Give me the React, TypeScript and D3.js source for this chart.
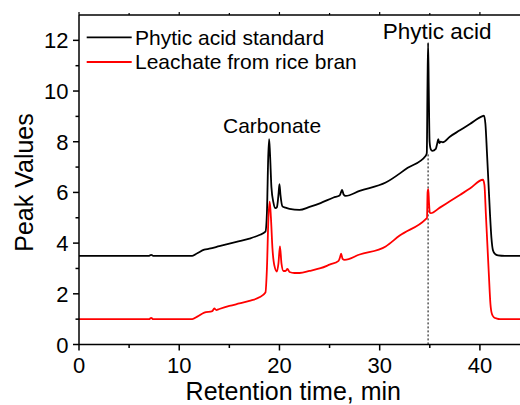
import React from "react";
import * as d3 from "d3";

const standardSeries: [number, number][] = [
  [0, 3.5], [5, 3.5], [7.0, 3.5], [7.2, 3.54], [7.4, 3.5], [11.3, 3.5], [11.8, 3.6], [12.5, 3.74],
  [13, 3.78], [14, 3.88], [15, 3.98], [16, 4.08], [17, 4.18], [18, 4.32], [18.6, 4.45],
  [18.75, 5.2], [18.88, 7.4], [18.97, 8.1], [19.06, 7.5], [19.2, 6.2], [19.4, 5.6], [19.6, 5.38],
  [19.75, 5.42], [19.9, 5.9], [20.0, 6.33], [20.1, 5.9], [20.3, 5.45], [20.6, 5.4], [21, 5.35],
  [22, 5.31], [23, 5.43], [24.1, 5.58], [25.4, 5.8], [26.0, 5.88], [26.12, 5.98], [26.25, 6.1],
  [26.4, 5.92], [26.6, 5.86], [28, 6.06], [30.6, 6.39], [32.8, 6.97], [34.6, 7.45], [34.7, 7.55],
  [34.77, 10.2], [34.83, 11.9], [34.9, 10.0], [34.98, 8.0], [35.1, 7.7], [35.25, 7.64],
  [35.6, 7.72], [35.75, 7.95], [35.85, 8.1], [35.95, 7.95], [36.1, 8.0], [36.3, 7.98], [37, 8.2],
  [38, 8.45], [39, 8.7], [40.2, 9.0], [40.4, 9.03], [40.55, 8.7], [40.7, 7.6], [40.85, 6.4],
  [41.0, 5.2], [41.15, 4.2], [41.3, 3.72], [41.5, 3.58], [41.8, 3.52], [42.5, 3.5], [45, 3.5],
];

const leachateSeries: [number, number][] = [
  [0, 1.0], [7.0, 1.0], [7.2, 1.05], [7.4, 1.0], [11.3, 1.0], [11.8, 1.1], [12.5, 1.26],
  [13.3, 1.32], [13.5, 1.42], [13.7, 1.36], [14, 1.4], [15, 1.52], [16, 1.62], [17, 1.72],
  [18, 1.86], [18.6, 2.05], [18.75, 3.0], [18.9, 5.0], [19.03, 5.64], [19.15, 5.0], [19.3, 3.8],
  [19.5, 3.1], [19.75, 2.88], [19.9, 3.2], [20.05, 3.87], [20.2, 3.2], [20.4, 2.9], [20.6, 2.9],
  [20.8, 2.98], [21.0, 2.86], [21.5, 2.82], [22, 2.82], [23, 2.9], [24.1, 3.01], [25, 3.15],
  [25.9, 3.3], [26.05, 3.45], [26.15, 3.58], [26.3, 3.38], [26.5, 3.34], [28, 3.55], [30.6, 3.87],
  [32, 4.3], [34.6, 4.95], [34.72, 5.0], [34.78, 6.0], [34.85, 6.13], [34.92, 5.6], [35.0, 5.2],
  [35.1, 5.18], [36, 5.4], [37, 5.65], [38, 5.9], [39, 6.15], [40.3, 6.5], [40.45, 6.3],
  [40.6, 5.1], [40.75, 3.9], [40.9, 2.7], [41.05, 1.6], [41.2, 1.2], [41.4, 1.07], [41.7, 1.02],
  [42, 1.0], [45, 1.0],
];

const xMajorTicks = [0, 10, 20, 30, 40];
const xMinorTicks = [5, 15, 25, 35];
const yMajorTicks = [0, 2, 4, 6, 8, 10, 12];
const yMinorTicks = [1, 3, 5, 7, 9, 11];
const legendLabels = ["Phytic acid standard", "Leachate from rice bran"];
const seriesColors = ["#000000", "#ff0000"];
const phyticRetention = 34.83;
const phyticBaseline = 7.5;

const FONT = "'Liberation Sans', Arial, Helvetica, sans-serif";

export default function App() {
  const W = 520;
  const H = 405;
  const left = 79;
  const right = 520;
  const top = 15;
  const bottom = 344.5;

  const x = d3.scaleLinear().domain([0, 44]).range([left, right]);
  const y = d3.scaleLinear().domain([0, 13]).range([bottom, top]);

  const lineGen = d3
    .line<[number, number]>()
    .x((d) => x(d[0]))
    .y((d) => y(d[1]))
    .curve(d3.curveMonotoneX);

  const series = [standardSeries, leachateSeries];

  return (
    <svg
      width={W}
      height={H}
      style={{ position: "absolute", left: 0, top: 0, background: "#fff" }}
      fontFamily={FONT}
    >
      <defs>
        <clipPath id="plotclip">
          <rect x={left} y={top} width={right - left} height={bottom - top} />
        </clipPath>
      </defs>

      <line
        x1={x(phyticRetention)}
        x2={x(phyticRetention)}
        y1={y(phyticBaseline)}
        y2={bottom}
        stroke="#000"
        strokeWidth={1}
        strokeDasharray="2,2"
      />

      <g clipPath="url(#plotclip)">
        {series.map((s, i) => (
          <path
            key={i}
            d={lineGen(s) || ""}
            fill="none"
            stroke={seriesColors[i]}
            strokeWidth={1.8}
            strokeLinejoin="round"
          />
        ))}
      </g>

      <line x1={left} x2={right} y1={bottom} y2={bottom} stroke="#000" strokeWidth={1.5} />
      <line x1={left} x2={right} y1={top} y2={top} stroke="#000" strokeWidth={1.5} />
      <line x1={left} x2={left} y1={top} y2={bottom} stroke="#000" strokeWidth={1.5} />

      {xMajorTicks.map((t) => (
        <g key={"xm" + t}>
          <line x1={x(t)} x2={x(t)} y1={bottom} y2={bottom + 6} stroke="#000" strokeWidth={1.5} />
          <line x1={x(t)} x2={x(t)} y1={top} y2={top - 3} stroke="#000" strokeWidth={1.2} />
          <text x={x(t)} y={373} textAnchor="middle" fontSize={22} fill="#000">
            {t}
          </text>
        </g>
      ))}
      {xMinorTicks.map((t) => (
        <g key={"xn" + t}>
          <line x1={x(t)} x2={x(t)} y1={bottom} y2={bottom + 3.5} stroke="#000" strokeWidth={1.5} />
          <line x1={x(t)} x2={x(t)} y1={top} y2={top - 2} stroke="#000" strokeWidth={1.2} />
        </g>
      ))}

      {yMajorTicks.map((t) => (
        <g key={"ym" + t}>
          <line x1={left - 6} x2={left} y1={y(t)} y2={y(t)} stroke="#000" strokeWidth={1.5} />
          <text x={68.5} y={y(t) + 8} textAnchor="end" fontSize={22} fill="#000">
            {t}
          </text>
        </g>
      ))}
      {yMinorTicks.map((t) => (
        <line key={"yn" + t} x1={left - 3.5} x2={left} y1={y(t)} y2={y(t)} stroke="#000" strokeWidth={1.5} />
      ))}

      <text x={293.3} y={400} textAnchor="middle" fontSize={25} fill="#000">
        Retention time, min
      </text>
      <text
        transform="translate(32.7,182.5) rotate(-90)"
        textAnchor="middle"
        fontSize={25}
        fill="#000"
      >
        Peak Values
      </text>

      {legendLabels.map((lab, i) => (
        <g key={lab}>
          <line
            x1={86.7}
            x2={131.7}
            y1={37.3 + i * 24.7}
            y2={37.3 + i * 24.7}
            stroke={seriesColors[i]}
            strokeWidth={1.8}
          />
          <text x={135} y={44.7 + i * 24.7} fontSize={21} fill="#000">
            {lab}
          </text>
        </g>
      ))}

      <text x={223} y={132.5} fontSize={21} fill="#000">
        Carbonate
      </text>
      <text x={382.7} y={39.3} fontSize={22.5} fill="#000">
        Phytic acid
      </text>
    </svg>
  );
}
